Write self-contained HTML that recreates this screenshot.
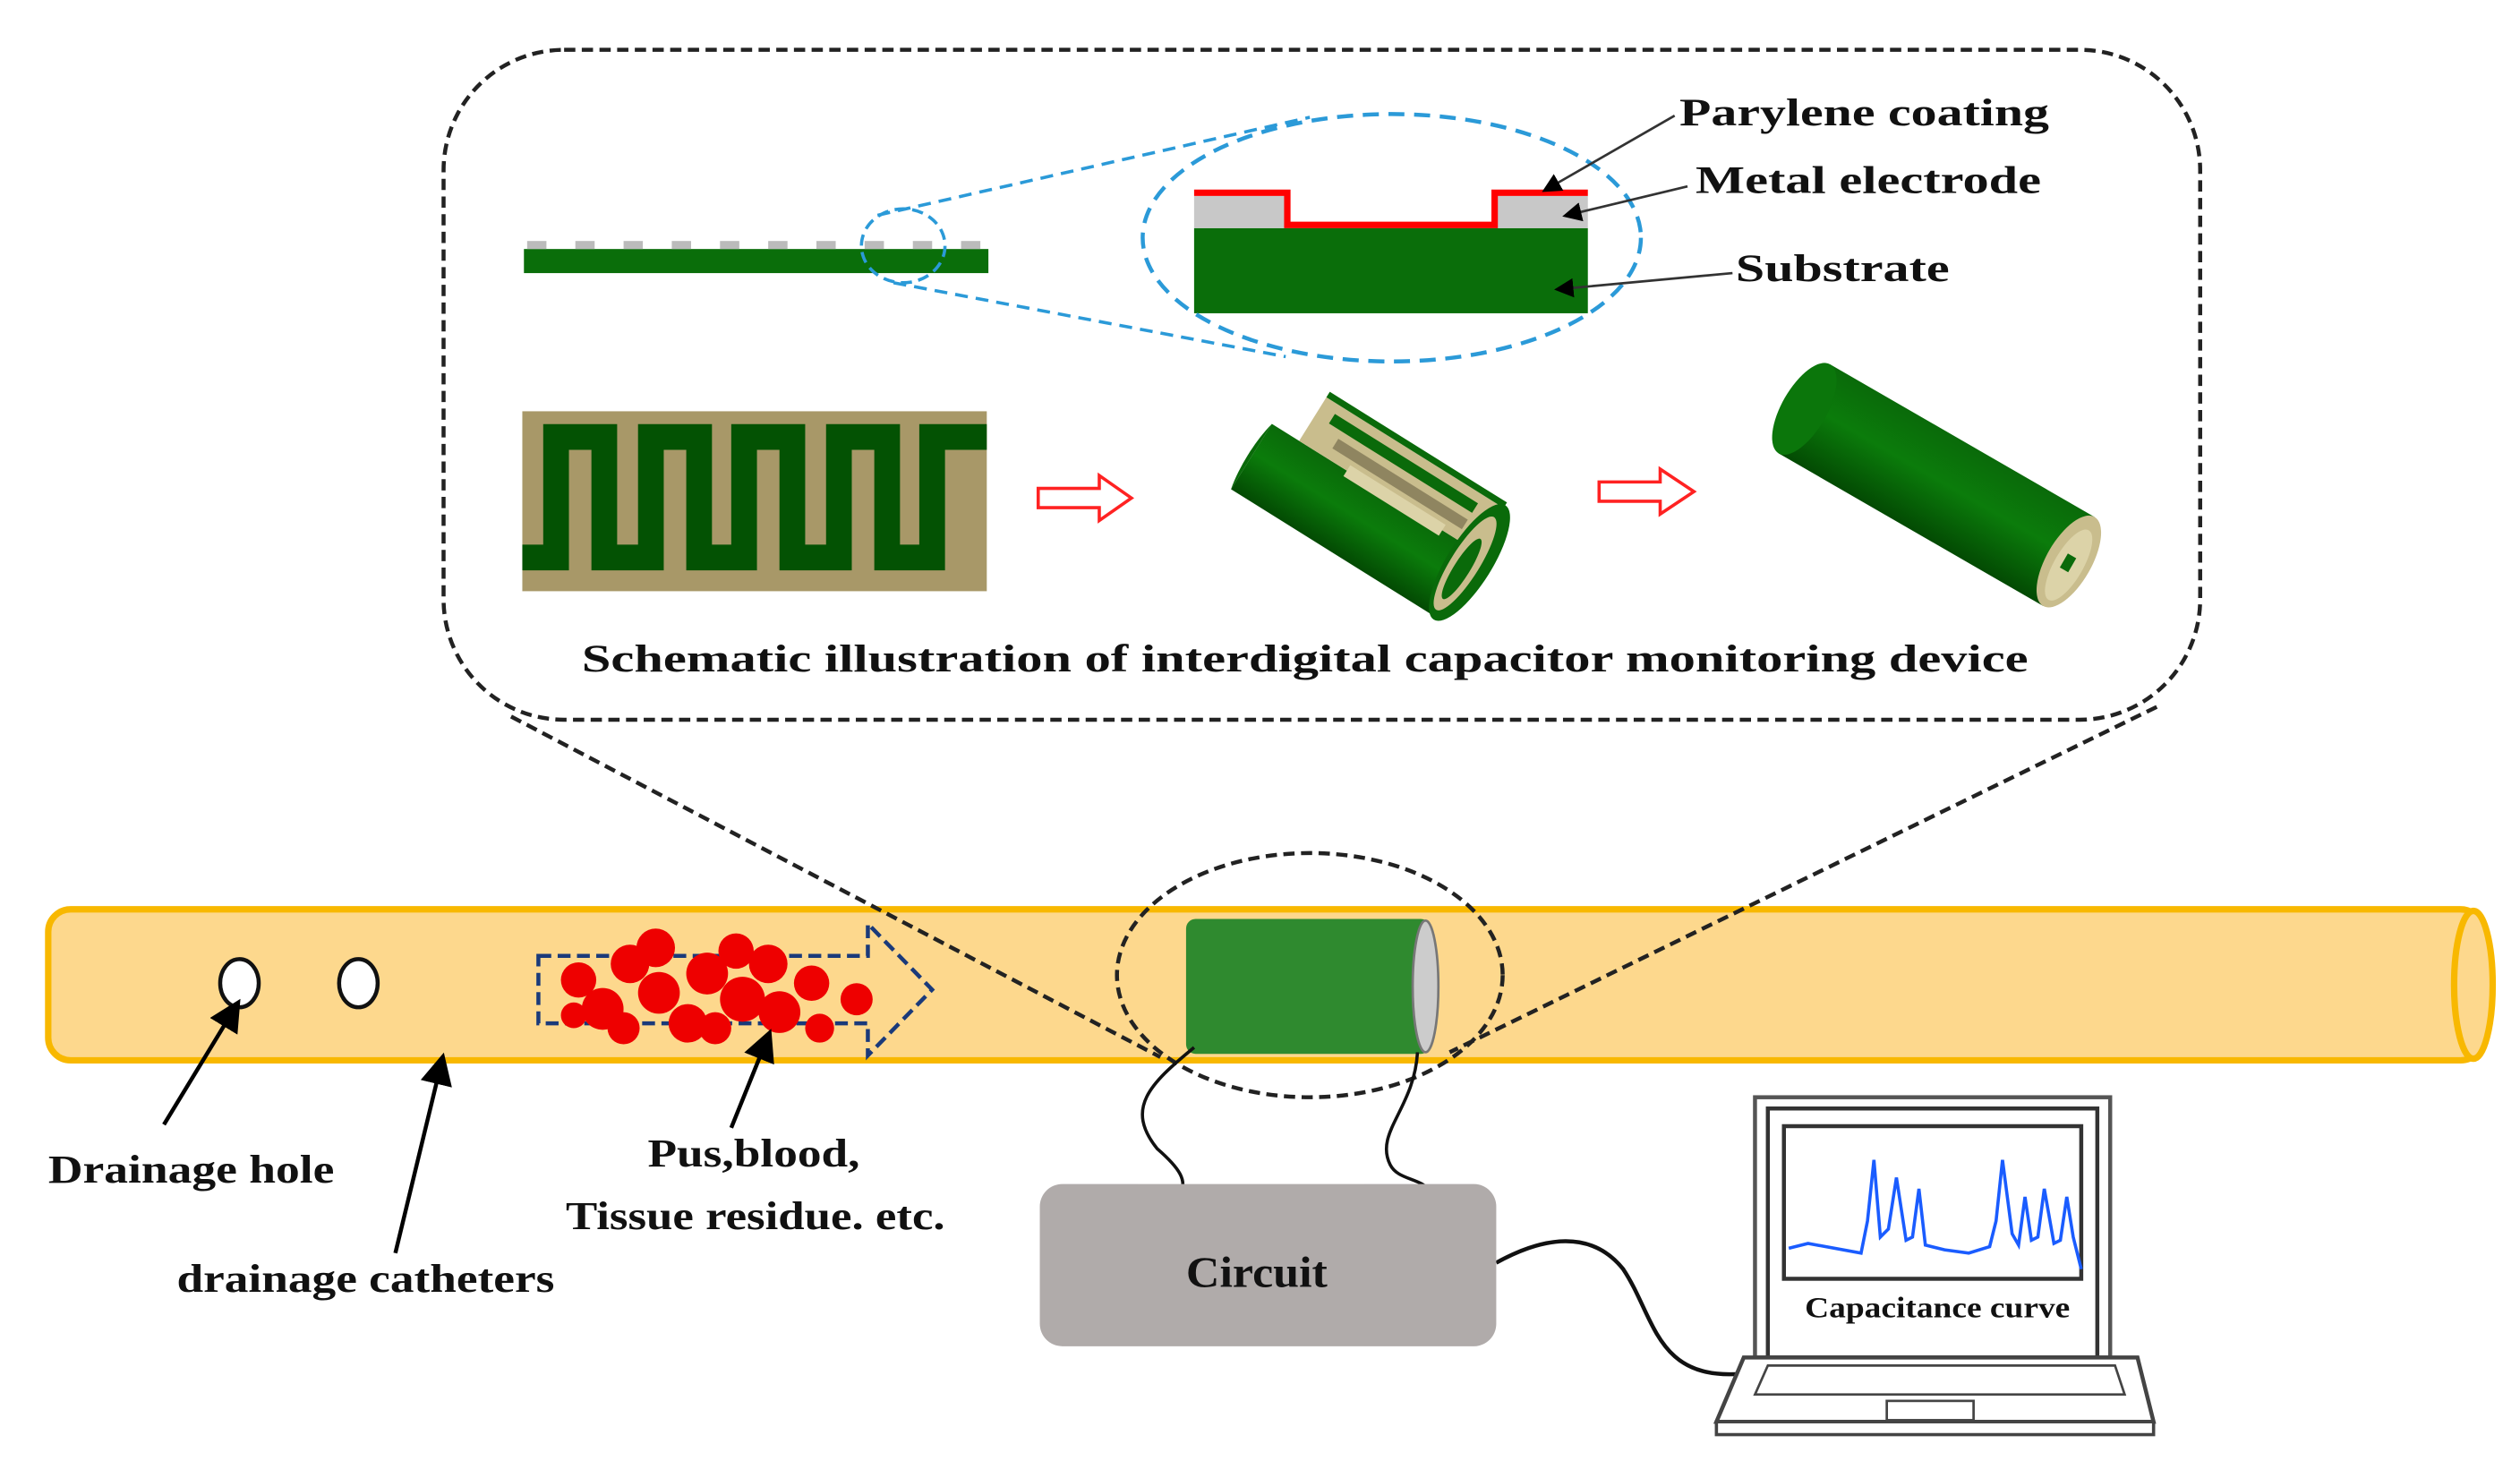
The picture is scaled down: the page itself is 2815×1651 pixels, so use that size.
<!DOCTYPE html>
<html><head><meta charset="utf-8"><style>
html,body{margin:0;padding:0;background:#fff}
svg{display:block}
text{font-family:"Liberation Serif",serif;font-weight:bold;fill:#111}
</style></head><body>
<svg width="2815" height="1651" viewBox="0 0 1568 920" preserveAspectRatio="none" xmlns="http://www.w3.org/2000/svg">
<defs>
<linearGradient id="cyl" x1="0" y1="0" x2="0" y2="1">
<stop offset="0" stop-color="#0a6a0a"/><stop offset="0.45" stop-color="#0b7c0b"/><stop offset="1" stop-color="#034a03"/>
</linearGradient>
<marker id="ah" markerWidth="8" markerHeight="8" refX="6" refY="4" orient="auto"><path d="M0,0 L8,4 L0,8 z" fill="#000"/></marker>
</defs>
<!-- big dashed rounded box -->
<rect x="276" y="31" width="1093" height="417" rx="75" fill="none" stroke="#222" stroke-width="2.5" stroke-dasharray="7,4"/>
<!-- catheter -->
<rect x="30" y="566" width="1515" height="94" rx="14" fill="#fdd88d" stroke="#f8b800" stroke-width="4"/>
<ellipse cx="1539" cy="613" rx="12" ry="46" fill="#fdd88d" stroke="#f8b800" stroke-width="4"/>
<ellipse cx="149" cy="612" rx="12" ry="15" fill="#fff" stroke="#111" stroke-width="2.5"/>
<ellipse cx="223" cy="612" rx="12" ry="15" fill="#fff" stroke="#111" stroke-width="2.5"/>
<!-- flow arrow -->
<path d="M335,595 L540,595 L540,575 L580,616 L540,657 L540,637 L335,637 Z" fill="none" stroke="#1a3a7a" stroke-width="2.5" stroke-dasharray="8,4"/>
<g fill="#e00">
<circle cx="360" cy="610" r="11"/><circle cx="375" cy="628" r="13"/><circle cx="392" cy="600" r="12"/><circle cx="408" cy="590" r="12"/><circle cx="410" cy="618" r="13"/><circle cx="428" cy="637" r="12"/><circle cx="388" cy="640" r="10"/><circle cx="440" cy="606" r="13"/><circle cx="458" cy="592" r="11"/><circle cx="462" cy="622" r="14"/><circle cx="478" cy="600" r="12"/><circle cx="485" cy="630" r="13"/><circle cx="505" cy="612" r="11"/><circle cx="510" cy="640" r="9"/><circle cx="533" cy="622" r="10"/><circle cx="445" cy="640" r="10"/><circle cx="357" cy="632" r="8"/>
</g>
<!-- device on catheter -->
<rect x="738" y="572" width="152" height="84" rx="6" fill="#2f8a2f"/>
<ellipse cx="887" cy="614" rx="8" ry="41" fill="#ccc" stroke="#777" stroke-width="1.5"/>
<ellipse cx="815" cy="607" rx="120" ry="76" fill="none" stroke="#222" stroke-width="2.5" stroke-dasharray="7,4"/>
<!-- zoom lines -->
<line x1="318" y1="446" x2="722" y2="658" stroke="#222" stroke-width="2.5" stroke-dasharray="7,4"/>
<line x1="1342" y1="440" x2="902" y2="655" stroke="#222" stroke-width="2.5" stroke-dasharray="7,4"/>
<!-- wires -->
<path d="M743,652 C715,675 700,690 720,715 C735,728 738,735 735,742" fill="none" stroke="#111" stroke-width="2"/>
<path d="M882,655 C880,690 855,705 865,725 C870,735 885,733 890,742" fill="none" stroke="#111" stroke-width="2"/>
<path d="M931,786 C960,770 990,765 1010,790 C1030,820 1030,860 1085,855" fill="none" stroke="#111" stroke-width="2.5"/>
<!-- circuit -->
<rect x="647" y="737" width="284" height="101" rx="14" fill="#b0abaa"/>
<text x="738" y="801" font-size="27" textLength="88" lengthAdjust="spacingAndGlyphs">Circuit</text>
<!-- laptop -->
<rect x="1092" y="683" width="221" height="162" fill="none" stroke="#555" stroke-width="2.5"/>
<rect x="1100" y="690" width="205" height="155" fill="none" stroke="#333" stroke-width="2.5"/>
<rect x="1110" y="701" width="185" height="95" fill="#fff" stroke="#333" stroke-width="2.5"/>
<path d="M1113,777 L1125,774 L1158,780 L1162,760 L1166,722 L1170,770 L1175,765 L1180,733 L1186,772 L1190,770 L1194,740 L1198,775 L1210,778 L1225,780 L1238,776 L1242,760 L1246,722 L1252,768 L1256,775 L1260,745 L1264,772 L1268,770 L1272,740 L1278,774 L1282,772 L1286,745 L1290,770 L1295,790" fill="none" stroke="#1a5cff" stroke-width="2"/>
<text x="1123" y="820" font-size="18" textLength="165" lengthAdjust="spacingAndGlyphs">Capacitance curve</text>
<path d="M1085,845 L1330,845 L1340,885 L1068,885 Z" fill="#fff" stroke="#444" stroke-width="2.5"/>
<path d="M1100,850 L1316,850 L1322,868 L1092,868 Z" fill="none" stroke="#444" stroke-width="1.5"/>
<rect x="1068" y="885" width="272" height="8" fill="#fff" stroke="#444" stroke-width="2"/>
<rect x="1174" y="872" width="54" height="12" fill="#fff" stroke="#444" stroke-width="1.5"/>
<!-- bottom labels -->
<line x1="102" y1="700" x2="147" y2="626" stroke="#000" stroke-width="2.5" marker-end="url(#ah)"/>
<line x1="246" y1="780" x2="275" y2="660" stroke="#000" stroke-width="2.5" marker-end="url(#ah)"/>
<line x1="455" y1="702" x2="478" y2="645" stroke="#000" stroke-width="2.5" marker-end="url(#ah)"/>
<text x="30" y="736" font-size="25" textLength="178" lengthAdjust="spacingAndGlyphs">Drainage hole</text>
<text x="110" y="804" font-size="25" textLength="235" lengthAdjust="spacingAndGlyphs">drainage catheters</text>
<text x="403" y="726" font-size="25" textLength="132" lengthAdjust="spacingAndGlyphs">Pus,blood,</text>
<text x="352" y="765" font-size="25" textLength="236" lengthAdjust="spacingAndGlyphs">Tissue residue. etc.</text>
<!-- top: strip -->
<rect x="326" y="155" width="289" height="15" fill="#0a6e0a"/>
<g fill="#bbb"><rect x="328" y="150" width="12" height="5"/><rect x="358" y="150" width="12" height="5"/><rect x="388" y="150" width="12" height="5"/><rect x="418" y="150" width="12" height="5"/><rect x="448" y="150" width="12" height="5"/><rect x="478" y="150" width="12" height="5"/><rect x="508" y="150" width="12" height="5"/><rect x="538" y="150" width="12" height="5"/><rect x="568" y="150" width="12" height="5"/><rect x="598" y="150" width="12" height="5"/></g>
<ellipse cx="562" cy="153" rx="26" ry="23" fill="none" stroke="#2b9ad8" stroke-width="2" stroke-dasharray="7,4"/>
<line x1="546" y1="134" x2="815" y2="73" stroke="#2b9ad8" stroke-width="2" stroke-dasharray="8,5"/>
<line x1="556" y1="176" x2="800" y2="222" stroke="#2b9ad8" stroke-width="2" stroke-dasharray="8,5"/>
<!-- cross section -->
<rect x="743" y="142" width="245" height="53" fill="#0a6e0a"/>
<rect x="743" y="122" width="57" height="20" fill="#c8c8c8"/>
<rect x="931" y="122" width="57" height="20" fill="#c8c8c8"/>
<path d="M743,120 L801,120 L801,140 L930,140 L930,120 L988,120" fill="none" stroke="#f00" stroke-width="4"/>
<ellipse cx="866" cy="148" rx="155" ry="77" fill="none" stroke="#2b9ad8" stroke-width="2.5" stroke-dasharray="10,6"/>
<line x1="1042" y1="72" x2="962" y2="118" stroke="#333" stroke-width="1.5" marker-end="url(#ah)"/>
<line x1="1050" y1="116" x2="975" y2="134" stroke="#333" stroke-width="1.5" marker-end="url(#ah)"/>
<line x1="1078" y1="170" x2="970" y2="180" stroke="#333" stroke-width="1.5" marker-end="url(#ah)"/>
<text x="1045" y="78" font-size="24" textLength="230" lengthAdjust="spacingAndGlyphs">Parylene coating</text>
<text x="1055" y="120" font-size="24" textLength="215" lengthAdjust="spacingAndGlyphs">Metal electrode</text>
<text x="1080" y="175" font-size="24" textLength="133" lengthAdjust="spacingAndGlyphs">Substrate</text>
<!-- interdigital -->
<rect x="325" y="256" width="289" height="112" fill="#a89868"/>
<path d="M325,347 L346,347 L346,272 L376,272 L376,347 L405,347 L405,272 L435,272 L435,347 L463,347 L463,272 L493,272 L493,347 L522,347 L522,272 L552,272 L552,347 L580,347 L580,272 L614,272" fill="none" stroke="#035203" stroke-width="16" stroke-linejoin="miter"/>
<!-- arrows -->
<path d="M646,304 L684,304 L684,296 L704,310 L684,324 L684,316 L646,316 Z" fill="#fff" stroke="#f22" stroke-width="2"/>
<path d="M995,300 L1033,300 L1033,292 L1054,306 L1033,320 L1033,312 L995,312 Z" fill="#fff" stroke="#f22" stroke-width="2"/>
<!-- open cylinder (half shell) -->
<g transform="translate(855,313) rotate(32)">
<path d="M-80,-8 L70,-8 L70,40 L-80,40 Z" fill="url(#cyl)"/>
<path d="M-80,-8 A12,40 0 0,0 -80,40" fill="#0a6a0a"/>
<path d="M-60,-40 L70,-40 L70,-8 L-60,-8 Z" fill="#c9bd8d"/>
<rect x="-50" y="-34" width="105" height="7" fill="#0a6a0a"/>
<rect x="-40" y="-22" width="95" height="7" fill="#8f8560"/>
<rect x="-25" y="-12" width="70" height="8" fill="#dcd3a8"/>
<path d="M-60,-40 L70,-40 L70,-44 L-60,-44 Z" fill="#0a6a0a"/>
<ellipse cx="70" cy="0" rx="14" ry="42" fill="#0a6a0a"/>
<ellipse cx="68" cy="2" rx="9" ry="34" fill="#c9bd8d"/>
<ellipse cx="68" cy="6" rx="5" ry="22" fill="#0a6a0a"/>
</g>
<!-- closed cylinder -->
<g transform="translate(1205,302) rotate(30)">
<rect x="-95" y="-32" width="190" height="64" fill="url(#cyl)"/>
<ellipse cx="-95" cy="0" rx="14" ry="32" fill="#0b760b"/>
<ellipse cx="95" cy="0" rx="14" ry="32" fill="#c9bd8d"/>
<ellipse cx="96" cy="2" rx="9" ry="25" fill="#dcd3a8"/>
<rect x="92" y="-4" width="6" height="10" fill="#0a6a0a"/>
</g>
<text x="362" y="418" font-size="24" textLength="900" lengthAdjust="spacingAndGlyphs">Schematic illustration of interdigital capacitor monitoring device</text>
</svg>
</body></html>
